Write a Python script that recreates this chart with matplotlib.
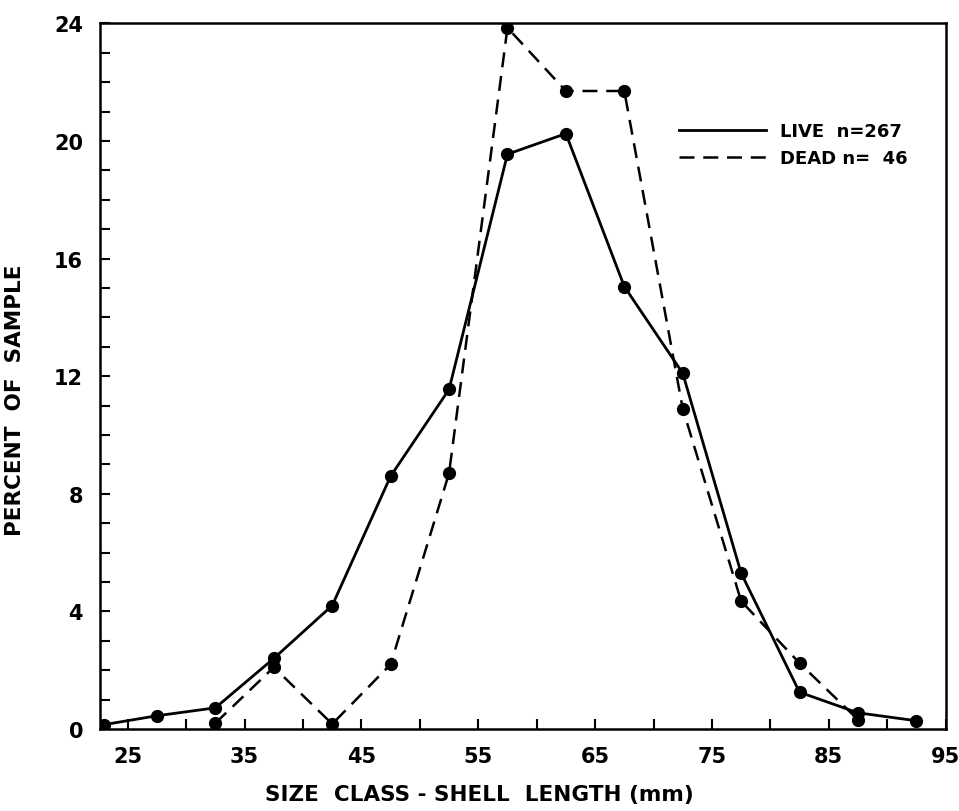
import matplotlib.pyplot as plt
from matplotlib.lines import Line2D
from matplotlib.ticker import MultipleLocator

# size class midpoints (mm)
live_x = [23, 27.5, 32.5, 37.5, 42.5, 47.5, 52.5, 57.5, 62.5, 67.5, 72.5, 77.5, 82.5, 87.5, 92.5]
live_pct = [0.15, 0.45, 0.72, 2.4, 4.2, 8.6, 11.55, 19.55, 20.25, 15.05, 12.1, 5.3, 1.25, 0.55, 0.28]

dead_x = [32.5, 37.5, 42.5, 47.5, 52.5, 57.5, 62.5, 67.5, 72.5, 77.5, 82.5, 87.5]
dead_pct = [0.2, 2.1, 0.17, 2.2, 8.7, 23.85, 21.7, 21.7, 10.9, 4.35, 2.24, 0.32]

x_labels = [25, 35, 45, 55, 65, 75, 85, 95]
y_labels = [0, 4, 8, 12, 16, 20, 24]

plt.rcParams['font.family'] = ['DejaVu Sans']
plt.rcParams['font.weight'] = 'bold'

fig = plt.figure(figsize=(9.59, 8.12), dpi=100)
ax = fig.add_axes([0.104, 0.101, 0.882, 0.869])

ax.plot(live_x, live_pct, color='black', lw=2, marker='o', ms=8.5, zorder=3)
dl, = ax.plot(dead_x, dead_pct, color='black', lw=1.8, marker='o', ms=8.5, zorder=3)
dl.set_dashes([6, 3.5])

ax.set_xlim(22.6, 95)
ax.set_ylim(0, 24)
ax.set_xticks(x_labels)
ax.xaxis.set_minor_locator(MultipleLocator(5))
ax.set_yticks(y_labels)
ax.yaxis.set_minor_locator(MultipleLocator(1))
ax.tick_params(which='both', direction='in', length=7, width=1.5)
ax.tick_params(axis='both', which='major', labelsize=15, pad=12)
for lab in ax.get_xticklabels() + ax.get_yticklabels():
    lab.set_fontweight('bold')
for s in ax.spines.values():
    s.set_linewidth(1.8)

ax.set_xlabel('SIZE  CLASS - SHELL  LENGTH (mm)', fontsize=15.5,
              fontweight='bold')
ax.set_ylabel('PERCENT  OF  SAMPLE', fontsize=15.5, fontweight='bold')
ax.xaxis.set_label_coords(0.449, -0.078)
ax.yaxis.set_label_coords(-0.088, 0.467)

handles = [Line2D([], [], color='black', lw=2),
           Line2D([], [], color='black', lw=1.8, dashes=[6, 3.5])]
ax.legend(handles, ['LIVE  n=267', 'DEAD n=  46'], loc='upper left',
          bbox_to_anchor=(0.685, 0.86), frameon=False, fontsize=13,
          handlelength=4.8, handletextpad=0.8, borderpad=0, borderaxespad=0,
          labelspacing=0.5)

fig.savefig('out.png', dpi=100)
